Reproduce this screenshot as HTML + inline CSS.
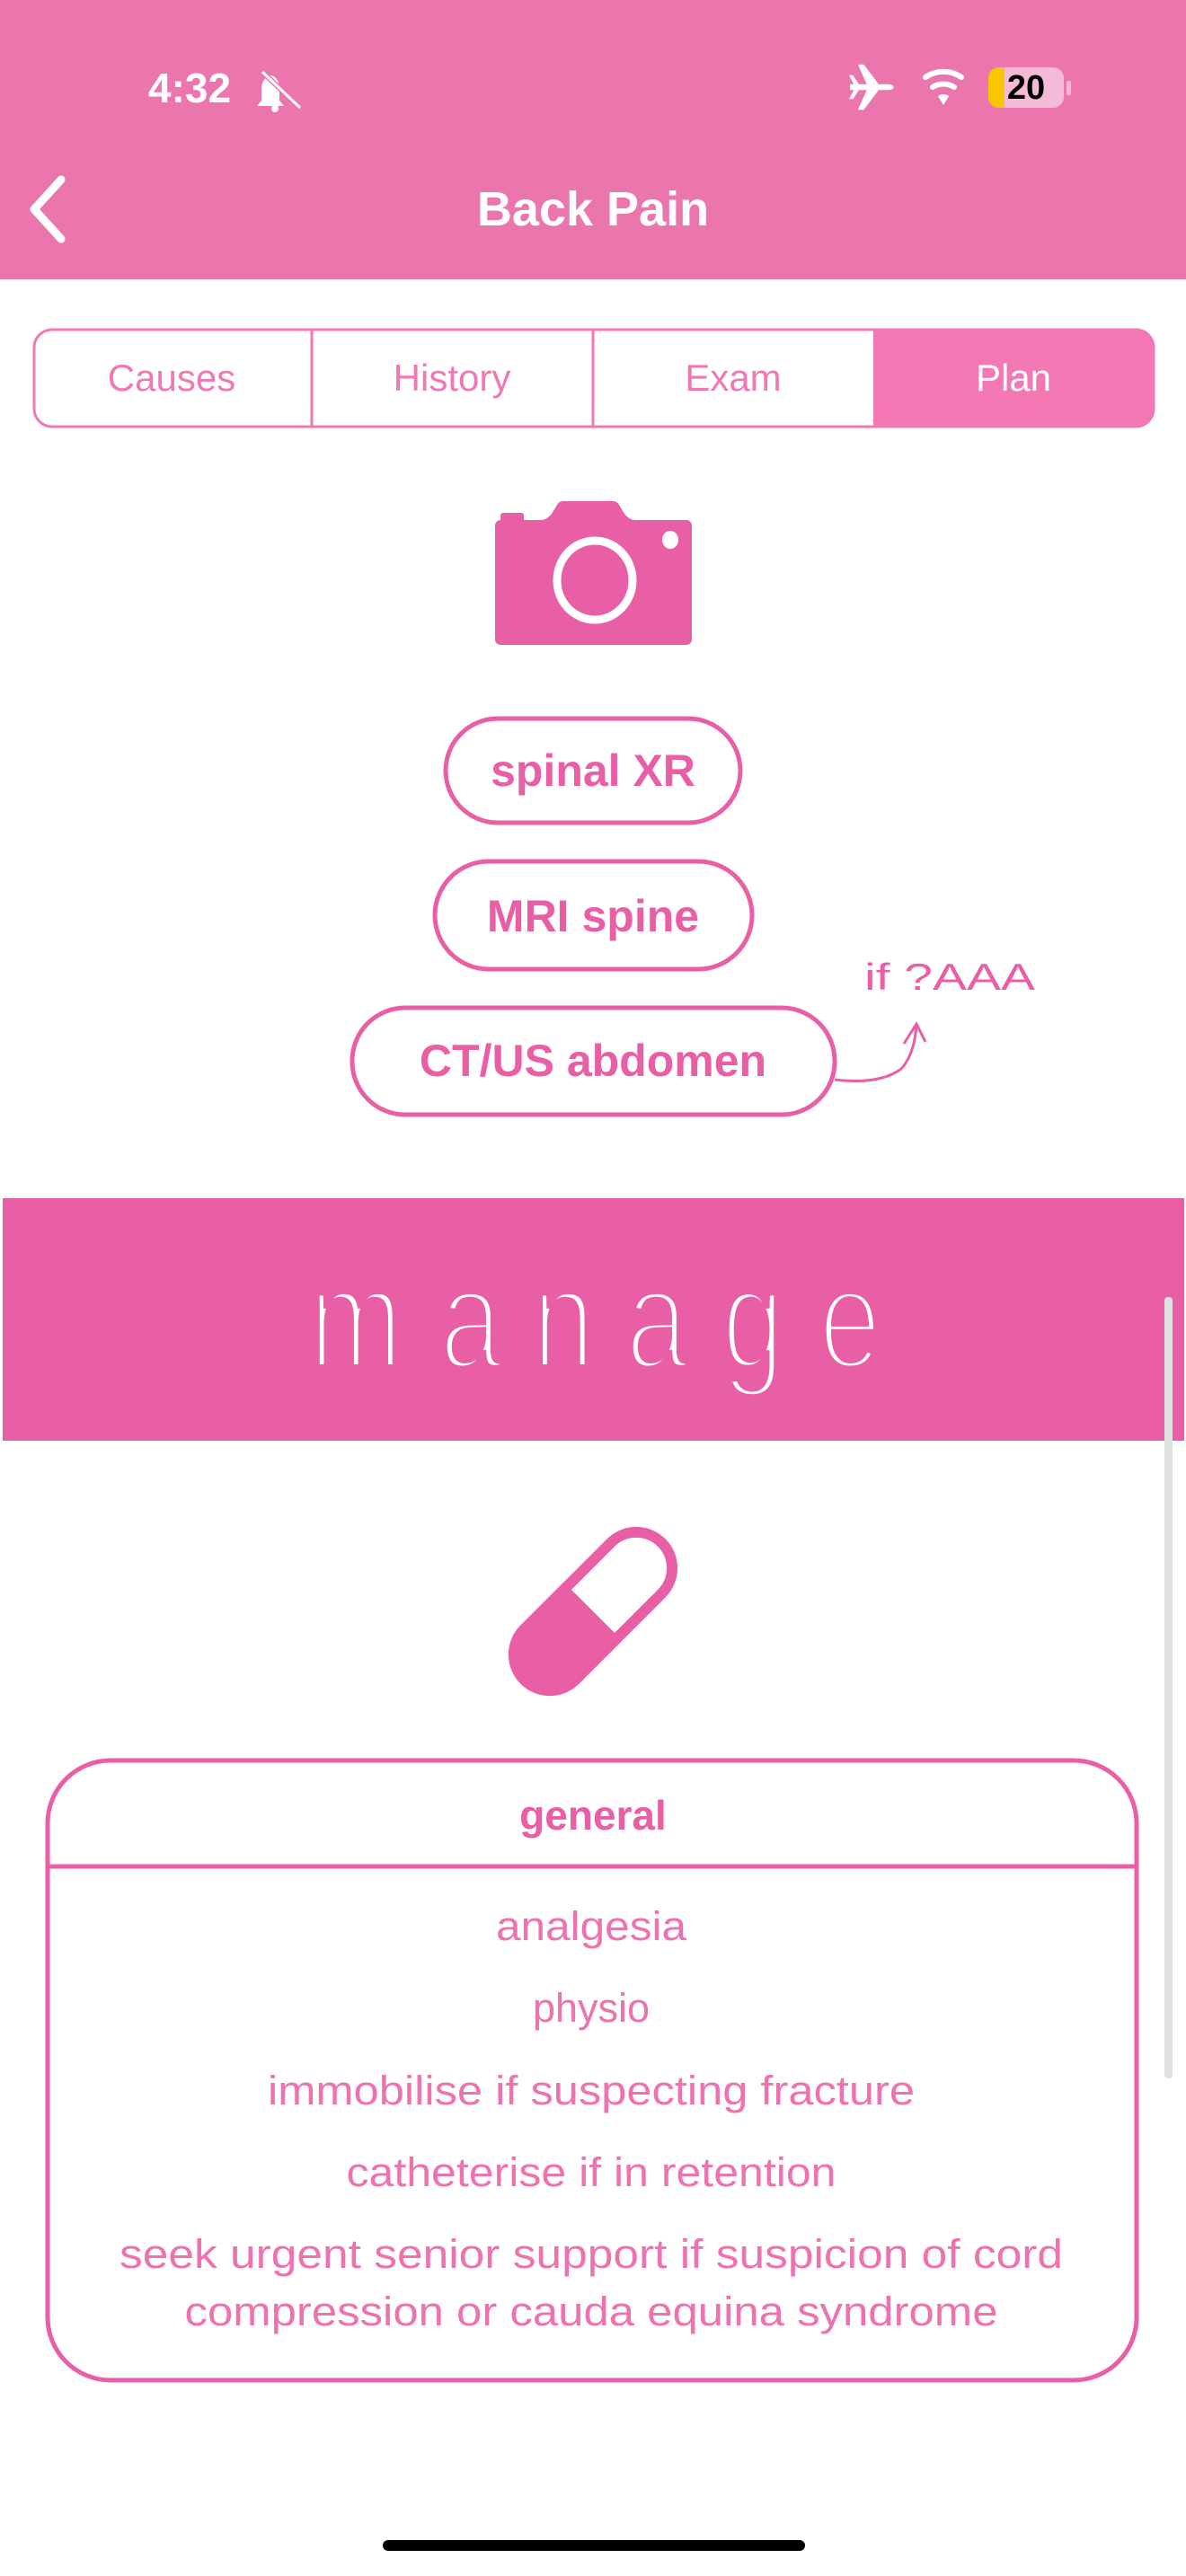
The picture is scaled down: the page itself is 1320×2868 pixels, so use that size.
<!DOCTYPE html>
<html><head><meta charset="utf-8"><style>
html,body{margin:0;padding:0;background:#fff;}
svg{display:block;}
text{font-family:"Liberation Sans",sans-serif;}
.mg{font-size:160px;fill:#fff;stroke:#E95FA6;stroke-width:8px;paint-order:fill stroke;text-anchor:middle;}
</style></head><body>
<svg width="1320" height="2868" viewBox="0 0 1320 2868" xmlns="http://www.w3.org/2000/svg">
<!-- header -->
<rect x="0" y="0" width="1320" height="311" fill="#EB76AE"/>
<text x="165" y="114" font-size="46" font-weight="bold" fill="#fff">4:32</text>
<g fill="#fff" stroke="#fff">
<path d="M302 84 q-10 2 -11 14 v14 l-5 6 h30 l-5 -6 v-14 q-1 -12 -9 -14z" stroke="none"/>
<line x1="292" y1="80" x2="334" y2="120" stroke="#EB76AE" stroke-width="6"/>
<line x1="292" y1="80" x2="334" y2="120" stroke-width="3"/>
<circle cx="306" cy="121" r="4" stroke="none"/>
</g>
<!-- airplane -->
<g transform="translate(968,97) scale(1.1)" fill="#fff">
<path d="M-20 -3 H18 Q24 -3 24 0 Q24 3 18 3 H-20z"/>
<path d="M-3 -3 L-12 -23 H-6 L9 -3z"/>
<path d="M-3 3 L-12 23 H-6 L9 3z"/>
<path d="M-16 -3 L-21 -12 H-17 L-11 -3z"/>
<path d="M-16 3 L-21 12 H-17 L-11 3z"/>
</g>
<!-- wifi -->
<g fill="none" stroke="#fff" stroke-width="6" stroke-linecap="round">
<path d="M1030 86 a35 35 0 0 1 40 0"/><path d="M1038 97 a22 22 0 0 1 24 0"/>
</g>
<path d="M1044 107 l6 10 l6 -10 a10 10 0 0 0 -12 0z" fill="#fff"/>
<rect x="1100" y="75" width="84" height="45" rx="12" fill="#F4BBD8"/>
<path d="M1112 75 a12 12 0 0 0 -12 12 v21 a12 12 0 0 0 12 12 h6 v-45z" fill="#F7C600"/>
<rect x="1187" y="90" width="5" height="16" rx="2" fill="#F4BBD8"/>
<text x="1142" y="110" font-size="38" font-weight="bold" fill="#000" text-anchor="middle">20</text>
<path d="M68 200 L38 233 L68 266" fill="none" stroke="#fff" stroke-width="9" stroke-linecap="round" stroke-linejoin="round"/>
<text x="660" y="251" font-size="54" font-weight="bold" fill="#fff" text-anchor="middle">Back Pain</text>

<!-- segmented -->
<path d="M972 367 H1264 a20 20 0 0 1 20 20 V455 a20 20 0 0 1 -20 20 H972z" fill="#F378B4"/>
<rect x="38" y="367" width="1246" height="108" rx="20" fill="none" stroke="#F178B6" stroke-width="3"/>
<line x1="347" y1="367" x2="347" y2="475" stroke="#F178B6" stroke-width="3"/>
<line x1="660" y1="367" x2="660" y2="475" stroke="#F178B6" stroke-width="3"/>
<g font-size="42" fill="#F178B6" text-anchor="middle">
<text x="191" y="435">Causes</text><text x="503" y="435">History</text><text x="816" y="435">Exam</text>
<text x="1128" y="435" fill="#fff">Plan</text></g>

<!-- camera -->
<path d="M551 579 h6 v-5 a3 3 0 0 1 3 -3 h20 a3 3 0 0 1 3 3 v5 h18 q10 0 16 -12 l3 -5 a8 8 0 0 1 7 -4 h55 a8 8 0 0 1 7 4 l3 5 q6 12 16 12 h56 a6 6 0 0 1 6 6 v127 a6 6 0 0 1 -6 6 h-207 a6 6 0 0 1 -6 -6 v-127 a6 6 0 0 1 6 -6z" fill="#E95FA6"/>
<ellipse cx="662" cy="646" rx="42" ry="44" fill="none" stroke="#fff" stroke-width="9"/>
<ellipse cx="746" cy="601" rx="9" ry="10" fill="#fff"/>

<!-- pills -->
<g fill="none" stroke="#E95FA6" stroke-width="5">
<rect x="496" y="800" width="328" height="116" rx="58"/>
<rect x="484" y="959" width="353" height="120" rx="60"/>
<rect x="392" y="1122" width="537" height="119" rx="59"/>
</g>
<g font-size="50" font-weight="bold" fill="#E95FA6" text-anchor="middle">
<text x="660" y="875">spinal XR</text>
<text x="660" y="1037">MRI spine</text>
<text x="660" y="1198">CT/US abdomen</text>
</g>
<path d="M929 1202 q50 6 74 -12 q15 -16 17 -50" fill="none" stroke="#E95FA6" stroke-width="3"/>
<path d="M1006 1162 l14 -22 l10 20" fill="none" stroke="#E95FA6" stroke-width="3"/>
<text x="962" y="1102" font-size="42" fill="#E95FA6" textLength="190" lengthAdjust="spacingAndGlyphs">if ?AAA</text>

<!-- manage banner -->
<rect x="3" y="1334" width="1315" height="270" fill="#E95FA6"/>
<g transform="translate(396,1523) scale(0.78,1)"><text class="mg" x="0" y="0">m</text></g>
<g transform="translate(524,1523) scale(0.78,1)"><text class="mg" x="0" y="0">a</text></g>
<g transform="translate(627,1523) scale(0.78,1)"><text class="mg" x="0" y="0">n</text></g>
<g transform="translate(731,1523) scale(0.78,1)"><text class="mg" x="0" y="0">a</text></g>
<g transform="translate(838,1523) scale(0.78,1)"><text class="mg" x="0" y="0">g</text></g>
<g transform="translate(946,1523) scale(0.78,1)"><text class="mg" x="0" y="0">e</text></g>
<rect x="1296" y="1444" width="9" height="870" rx="4" fill="#e0e0e0"/>

<!-- pill capsule icon -->
<g transform="translate(660,1794) rotate(45)">
<rect x="-40" y="-108" width="80" height="216" rx="40" fill="#fff" stroke="#E95FA6" stroke-width="12"/>
<path d="M-46 0 H46 V68 a46 46 0 0 1 -92 0z" fill="#E95FA6"/>
</g>

<!-- general box -->
<rect x="53" y="1960" width="1212" height="690" rx="70" fill="none" stroke="#E95FA6" stroke-width="5"/>
<line x1="53" y1="2078" x2="1265" y2="2078" stroke="#E95FA6" stroke-width="5"/>
<text x="660" y="2037" font-size="46" font-weight="bold" fill="#E95FA6" text-anchor="middle">general</text>
<g font-size="45" fill="#EE72B0" text-anchor="middle">
<text x="658" y="2160" textLength="212" lengthAdjust="spacingAndGlyphs">analgesia</text>
<text x="658" y="2251">physio</text>
<text x="658" y="2343" textLength="720" lengthAdjust="spacingAndGlyphs">immobilise if suspecting fracture</text>
<text x="658" y="2434" textLength="545" lengthAdjust="spacingAndGlyphs">catheterise if in retention</text>
<text x="658" y="2525" textLength="1050" lengthAdjust="spacingAndGlyphs">seek urgent senior support if suspicion of cord</text>
<text x="658" y="2589" textLength="905" lengthAdjust="spacingAndGlyphs">compression or cauda equina syndrome</text>
</g>

<rect x="426" y="2828" width="470" height="12" rx="6" fill="#000"/>
</svg>
</body></html>
